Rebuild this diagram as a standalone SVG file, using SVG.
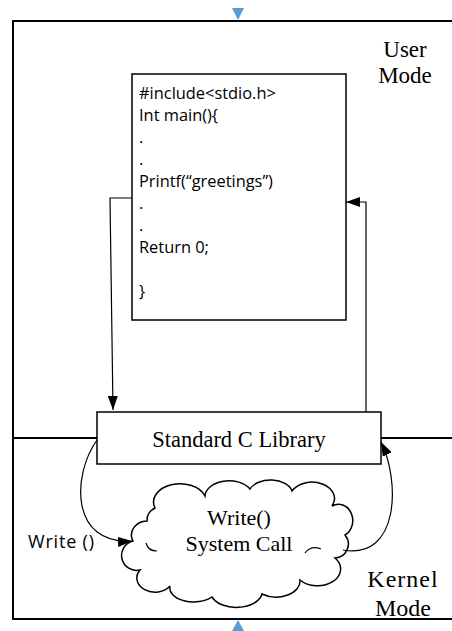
<svg xmlns="http://www.w3.org/2000/svg" width="452" height="631" viewBox="0 0 452 631">
<style>
.frame{fill:none;stroke:#000;stroke-width:2}
.box{fill:#fff;stroke:#000;stroke-width:1.5}
.conn{fill:none;stroke:#000;stroke-width:1.2}
.code{font-family:"Open Sans",sans-serif;font-size:16.4px;fill:#000}
.serif{font-family:"Liberation Serif",serif;fill:#000}
.tri{fill:#5B9BD5}
</style>
<defs>
<marker id="ah" viewBox="0 0 14 10" refX="14" refY="5" markerWidth="14" markerHeight="10" markerUnits="userSpaceOnUse" orient="auto">
<path d="M0,0 L14,5 L0,10 Z" fill="#000"/>
</marker>
</defs>
<rect width="452" height="631" fill="#fff"/>
<g id="frame">
<rect class="frame" x="13" y="21" width="460" height="598"/>
<line class="frame" x1="13" y1="438" x2="97" y2="438"/>
<line class="frame" x1="381" y1="438" x2="452" y2="438"/>
<path class="tri" d="M232,8 L244,8 L238,20 Z"/>
<path class="tri" d="M238,620 L232,631 L244,631 Z"/>
</g>
<g id="user-mode">
<text class="serif" font-size="23" text-anchor="middle" x="405" y="57">User</text>
<text class="serif" font-size="23" text-anchor="middle" x="405" y="83">Mode</text>
</g>
<g id="kernel-mode">
<text class="serif" font-size="24" text-anchor="middle" x="403" y="587" letter-spacing="1">Kernel</text>
<text class="serif" font-size="24" text-anchor="middle" x="403" y="616">Mode</text>
</g>
<g id="code">
<rect class="box" x="132" y="74" width="214" height="246"/>
<text class="code" x="139" y="99">#include&lt;stdio.h&gt;</text>
<text class="code" x="139" y="121">Int main(){</text>
<text class="code" x="139" y="143">.</text>
<text class="code" x="139" y="165">.</text>
<text class="code" x="139" y="187">Printf(“greetings”)</text>
<text class="code" x="139" y="209">.</text>
<text class="code" x="139" y="231">.</text>
<text class="code" x="139" y="253">Return 0;</text>
<text class="code" x="139" y="297">}</text>
</g>
<g id="stdlib">
<rect class="box" x="97" y="412" width="284" height="52"/>
<text class="serif" font-size="22.5" text-anchor="middle" x="239" y="447">Standard C Library</text>
</g>
<g id="syscall">
<path class="box" d="M133,541 A16,14 0 0 1 147,521 A14,14 0 0 1 155,508 A26,18 0 0 1 205,496 A24,16 0 0 1 250,489 A22,14 0 0 1 292,491 A22,16 0 0 1 332,506 A14,16 0 0 1 345,535 A14,14 0 0 1 335,558 A22,16 0 0 1 300,580 A24,16 0 0 1 262,594 A26,16 0 0 1 212,597 A24,14 0 0 1 170,586 A18,14 0 0 1 140,570 A14,14 0 0 1 133,541 Z"/>
<path class="conn" d="M146,543 Q148,551 157,551"/>
<path class="conn" d="M305,553 Q311,545 321,549"/>
<text class="serif" font-size="22" text-anchor="middle" x="239" y="525">Write()</text>
<text class="serif" font-size="22" text-anchor="middle" x="239" y="551">System Call</text>
</g>
<g id="connectors">
<path class="conn" d="M132,198 L110,198 L113,410" marker-end="url(#ah)"/>
<path class="conn" d="M366,412 L366,202 L346,202" marker-end="url(#ah)"/>
<path class="conn" d="M97,440 C72,475 70,545 132,541" marker-end="url(#ah)"/>
<path class="conn" d="M343,550 C400,560 400,480 381,442" marker-end="url(#ah)"/>
<text x="28" y="548" font-family="Open Sans, sans-serif" font-size="18" letter-spacing="0.8">Write ()</text>
</g>
</svg>
